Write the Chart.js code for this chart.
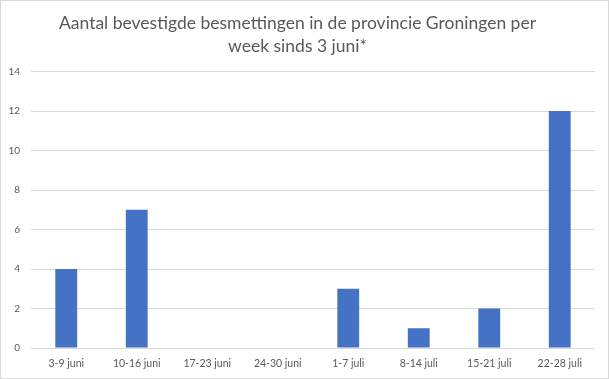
<!DOCTYPE html>
<html><head><meta charset="utf-8">
<script src="https://cdn.jsdelivr.net/npm/chart.js@4/dist/chart.umd.min.js"></script>
<style>html,body{margin:0;padding:0;background:#fff}#w{width:609px;height:379px}</style>
</head><body><div id="w"><canvas id="c" width="609" height="379"></canvas></div>
<script>
const categories = ["3-9 juni","10-16 juni","17-23 juni","24-30 juni","1-7 juli","8-14 juli","15-21 juli","22-28 juli"];
const values = [4, 7, 0, 0, 3, 1, 2, 12];
const titleLines = ["Aantal bevestigde besmettingen in de provincie Groningen per","week sinds 3 juni*"];
const yMin = 0, yMax = 14, yStep = 2;

const frame = {
  id: 'frame',
  beforeDraw(chart) {
    const ctx = chart.ctx;
    ctx.save();
    ctx.fillStyle = '#fff';
    ctx.fillRect(0, 0, chart.width, chart.height);
    ctx.strokeStyle = '#d9d9d9';
    ctx.lineWidth = 1;
    ctx.strokeRect(0.5, 0.5, chart.width - 1, chart.height - 1);
    ctx.restore();
  }
};

new Chart(document.getElementById('c'), {
  type: 'bar',
  data: { labels: categories, datasets: [{ data: values, backgroundColor: '#4472C4', barPercentage: 0.31, categoryPercentage: 1 }] },
  options: {
    responsive: false, animation: false,
    layout: { padding: { left: 0, right: 14, top: 0, bottom: 0 } },
    plugins: {
      legend: { display: false }, tooltip: { enabled: false },
      title: { display: true, text: titleLines, color: '#595959', font: { family: 'Lato', size: 17.5, weight: 'normal', lineHeight: 1.36 }, padding: { top: 11, bottom: 13 } }
    },
    scales: {
      x: {
        grid: { display: false, drawTicks: false }, border: { display: false },
        ticks: { color: '#595959', font: { family: 'Lato', size: 10.5 }, padding: 9, maxRotation: 0 },
        afterFit(s) { s.height = 31; }
      },
      y: {
        min: yMin, max: yMax,
        grid: { color: '#d9d9d9', drawTicks: false }, border: { display: false },
        ticks: { stepSize: yStep, color: '#595959', font: { family: 'Lato', size: 10 }, padding: 11 },
        afterFit(s) { s.width = 31; }
      }
    }
  },
  plugins: [frame]
});
</script></body></html>
